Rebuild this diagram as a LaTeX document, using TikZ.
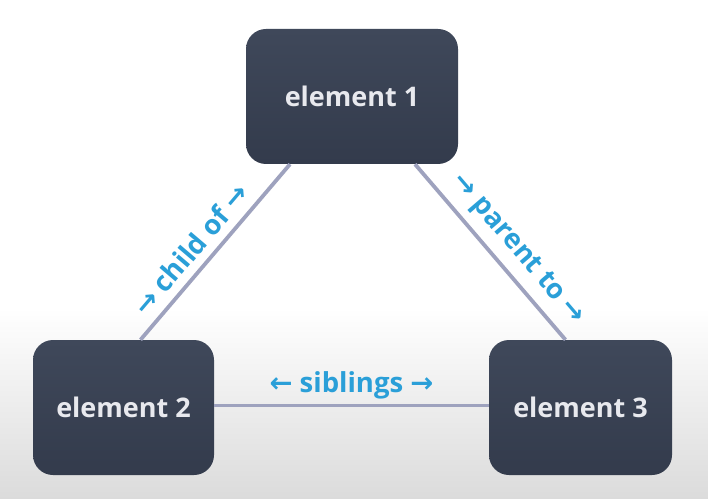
\documentclass[tikz,border=0pt]{standalone}
\usepackage{fontspec}
\setmainfont{Open Sans}
\newfontfamily\arrfont{DejaVu Sans}
\definecolor{boxtop}{HTML}{3F485A}
\definecolor{boxbot}{HTML}{333B4C}
\definecolor{boxtext}{HTML}{E8E9EE}
\definecolor{linkcol}{HTML}{9EA2BE}
\definecolor{labcol}{HTML}{2A9FD8}
\newcommand{\rarr}{{\arrfont\char"2192}}
\newcommand{\larr}{{\arrfont\char"2190}}

\begin{document}
\begin{tikzpicture}[x=1pt, y=1pt,
    elem/.style={rounded corners=20pt, top color=boxtop, bottom color=boxbot,
        text=boxtext, font=\fontsize{27}{32}\selectfont\bfseries, minimum height=135pt},
    link/.style={draw=linkcol, line width=3.8pt},
    lab/.style={text=labcol, font=\fontsize{27.5}{32}\selectfont\bfseries, inner sep=3pt}]
    % 1. Background
    \useasboundingbox (0,0) rectangle (708,498);
    \fill[white] (0,0) rectangle (708,498);
    \shade[top color=white, bottom color=black!14] (0,0) rectangle (708,190);

    % 2. Elements
    \node[elem, minimum width=212pt] (e1) at (352,401.5) {element 1};
    \node[elem, minimum width=181pt] (e2) at (123.5,90.5) {element 2};
    \node[elem, minimum width=183pt] (e3) at (580.5,90.5) {element 3};

    % 3. Relations
    \draw[link] ([xshift=17pt]e2.north) -- ([xshift=-62pt]e1.south)
        node[lab, pos=0.44, sloped, above=5pt] {\rarr\ child of \rarr};
    \draw[link] ([xshift=63pt]e1.south) -- ([xshift=-15pt]e3.north)
        node[lab, pos=0.57, sloped, above=5pt] {\rarr\ parent to \rarr};
    \draw[link] ([yshift=2pt]e2.east) -- ([yshift=2pt]e3.west)
        node[lab, midway, above=1pt] {\larr\ siblings \rarr};
\end{tikzpicture}
\end{document}
